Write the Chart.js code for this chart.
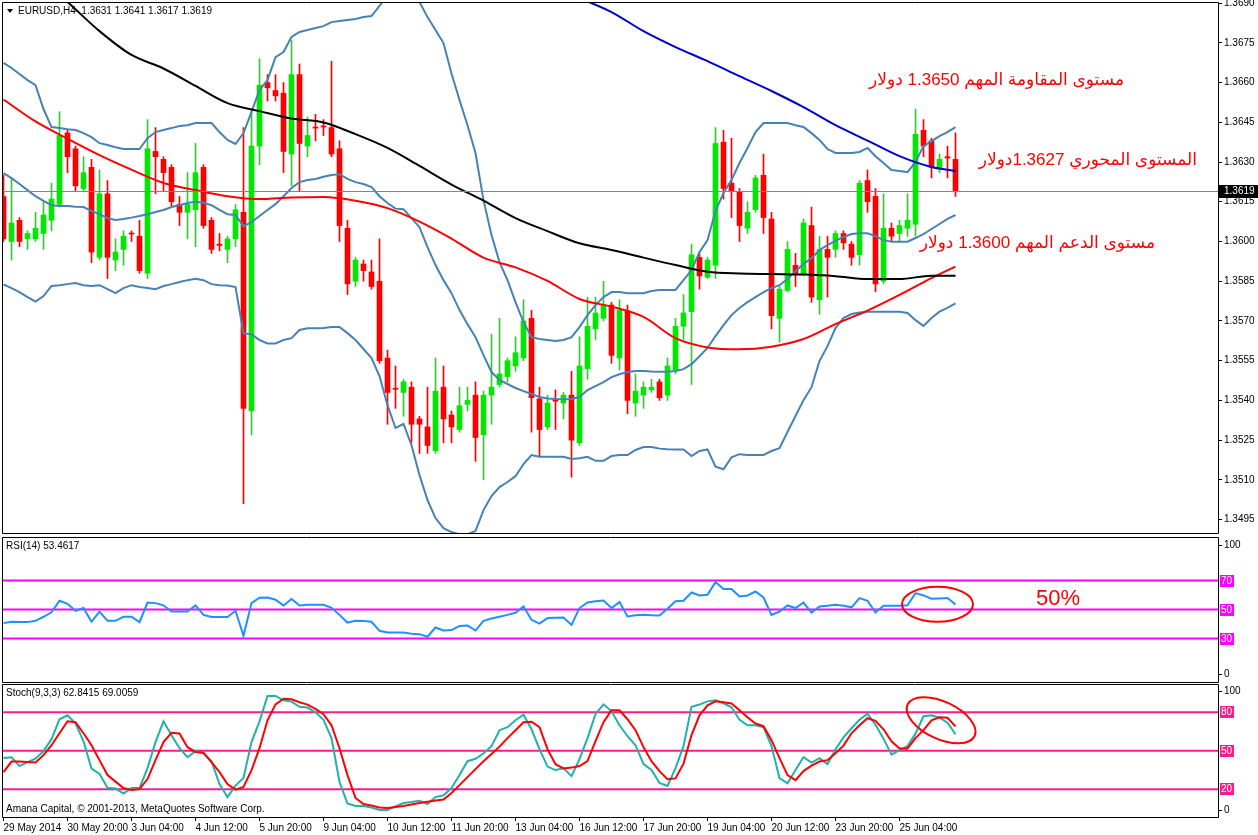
<!DOCTYPE html>
<html><head><meta charset="utf-8">
<script src="https://cdn.jsdelivr.net/npm/chart.js"></script>
<style>
html,body{margin:0;padding:0;background:#fff;}
#wrap{position:relative;width:1258px;height:835px;overflow:hidden;background:#fff;}
canvas{position:absolute;left:0;}
.t{position:absolute;font-family:"Liberation Sans",Arial,sans-serif;font-size:10px;line-height:12px;color:#000;white-space:pre;}
.ar{position:absolute;font-family:"Liberation Sans","DejaVu Sans",sans-serif;font-size:17px;line-height:20px;color:#ff0000;white-space:pre;direction:rtl;}
.tri{position:absolute;left:7px;top:9px;width:0;height:0;border-left:3px solid transparent;border-right:3px solid transparent;border-top:4px solid #000;}
</style></head>
<body><div id="wrap">
<canvas id="main" width="1258" height="535" style="top:0"></canvas>
<canvas id="rsi" width="1258" height="149" style="top:535px"></canvas>
<canvas id="sto" width="1258" height="151" style="top:684px"></canvas>
<div class="tri"></div>
<div class="t" style="left:18px;top:5px">EURUSD,H4  1.3631 1.3641 1.3617 1.3619</div>
<div class="t" style="left:6px;top:540px">RSI(14) 53.4617</div>
<div class="t" style="left:6px;top:687px">Stoch(9,3,3) 62.8415 69.0059</div>
<div class="t" style="left:6px;top:803px">Amana Capital, © 2001-2013, MetaQuotes Software Corp.</div>
<div class="ar" style="right:134px;top:70px">مستوى المقاومة المهم 1.3650 دولار</div>
<div class="ar" style="right:61px;top:150px">المستوى المحوري 1.3627دولار</div>
<div class="ar" style="right:103px;top:233px">مستوى الدعم المهم 1.3600 دولار</div>
<div class="ar" style="left:1036px;top:586px;font-size:22px;line-height:24px;direction:ltr">50%</div>
</div>
<script>
// ---------- data ----------
const open = [1.3617,1.3600,1.3608,1.3601,1.3601,1.3603,1.3608,1.3614,1.3641,1.3635,
1.3620,1.3628,1.3594,1.3618,1.3593,1.3597,1.36032,1.3602,1.3588,1.3634,
1.3631,1.3628,1.3614,1.3611,1.3612,1.3628,1.3608,1.3599,1.3597,1.3601,
1.3611,1.3536,1.3636,1.3660,1.3657,1.3656,1.3633,1.3663,1.3636,1.36432,
1.36436,1.3643,1.3635,1.3605,1.3585,1.35915,1.35885,1.3585,1.3556,1.35446,
1.3543,1.3545,1.3533,1.3530,1.3521,1.3545,1.35345,1.3529,1.35385,1.3542,
1.3527,1.3542,1.3546,1.3549,1.3553,1.3556,1.3571,1.35406,1.3530,1.35403,
1.3539,1.3542,1.3524,1.3552,1.3567,1.3571,1.3576,1.3556,1.35738,1.3539,
1.3542,1.3544,1.3547,1.3542,1.35515,1.3568,1.35735,1.3594,1.35865,1.3591,
1.36375,1.3622,1.36187,1.3605,1.3612,1.3625,1.36085,1.3571,1.35815,1.3591,
1.35877,1.3606,1.3578,1.3597,1.3597,1.3603,1.3599,1.3595,1.3623,1.3617,
1.3585,1.3605,1.3603,1.3605,1.36065,1.3642,1.3638,1.36275,1.3632,1.3631];
const high = [1.3625,1.3624,1.3609,1.3604,1.3611,1.3615,1.3622,1.3649,1.3642,1.3636,
1.3632,1.3631,1.3627,1.3623,1.3601,1.3604,1.3604,1.3608,1.3646,1.3643,
1.3632,1.3629,1.3617,1.3626,1.3637,1.3629,1.3609,1.3603,1.3602,1.3614,
1.3643,1.3649,1.3669,1.3663,1.3663,1.3660,1.3676,1.3667,1.3647,1.3648,
1.3646,1.3668,1.3638,1.3608,1.3594,1.3593,1.3593,1.3601,1.3559,1.3553,
1.3548,1.3547,1.3534,1.3545,1.3556,1.3553,1.3536,1.3545,1.3545,1.3547,
1.35435,1.3565,1.3571,1.3556,1.3564,1.3578,1.3574,1.3545,1.3542,1.3544,
1.3543,1.3551,1.3564,1.3579,1.3579,1.3585,1.3577,1.3578,1.3576,1.3550,
1.3547,1.3548,1.3548,1.3556,1.3571,1.3580,1.3599,1.35955,1.3594,1.3643,
1.3642,1.3639,1.3620,1.3615,1.3625,1.3633,1.3611,1.3583,1.3600,1.35955,
1.36085,1.3613,1.3602,1.3602,1.3604,1.3604,1.3600,1.3623,1.3627,1.3620,
1.3618,1.3607,1.3608,1.3618,1.3650,1.3646,1.3639,1.3633,1.3636,1.3641];
const low = [1.3600,1.3593,1.3598,1.3597,1.3600,1.3597,1.3604,1.3613,1.3626,1.3619,
1.3619,1.3592,1.3593,1.3586,1.3589,1.3591,1.3600,1.3588,1.3586,1.3618,
1.3619,1.3613,1.3606,1.3601,1.3598,1.3605,1.35955,1.35965,1.3592,1.3598,
1.3501,1.3527,1.3629,1.3653,1.3653,1.3626,1.3621,1.3619,1.3632,1.3638,
1.3640,1.3632,1.3600,1.3580,1.3583,1.3585,1.3582,1.3554,1.3531,1.3537,
1.3534,1.3524,1.3520,1.3520,1.3520,1.3524,1.3524,1.3528,1.3536,1.3517,
1.3510,1.3531,1.3545,1.3547,1.3551,1.3555,1.3528,1.3519,1.3529,1.3529,
1.3533,1.3511,1.3523,1.3548,1.3563,1.3570,1.3554,1.35515,1.3535,1.3534,
1.3537,1.3543,1.3540,1.3540,1.3550,1.3563,1.3546,1.3582,1.3586,1.3586,
1.3616,1.3609,1.3600,1.3603,1.3611,1.3603,1.3567,1.3562,1.3581,1.3583,
1.3587,1.3577,1.35725,1.3579,1.3594,1.3597,1.3591,1.3591,1.3611,1.3581,
1.3584,1.3600,1.3600,1.3602,1.3602,1.3632,1.3624,1.3626,1.3624,1.3617];
const close = [1.3601,1.3607,1.3600,1.3603,1.3605,1.3610,1.3616,1.3640,1.3632,1.3621,
1.3626,1.3596,1.3618,1.3594,1.3596,1.3602,1.36028,1.3589,1.3635,1.3632,
1.3626,1.3615,1.3611,1.3614,1.3626,1.3606,1.3597,1.35985,1.3601,1.3612,
1.3537,1.3636,1.3659,1.3658,1.3655,1.3634,1.3663,1.3637,1.3640,1.36428,
1.36432,1.3633,1.3606,1.3584,1.3593,1.3589,1.3583,1.3555,1.3543,1.35442,
1.3547,1.3531,1.3531,1.3523,1.35435,1.3533,1.3530,1.3538,1.3540,1.3526,
1.3542,1.3545,1.3550,1.3555,1.3558,1.3570,1.3541,1.3529,1.3539,1.35397,
1.3542,1.3525,1.3553,1.3568,1.3573,1.3576,1.3557,1.3574,1.3540,1.35435,
1.3545,1.3545,1.3541,1.3553,1.3568,1.3573,1.3595,1.3587,1.3593,1.3637,
1.3620,1.3619,1.3606,1.3611,1.3624,1.3609,1.3572,1.3582,1.3597,1.3588,
1.3607,1.3579,1.3597,1.3594,1.3603,1.35995,1.3594,1.3622,1.3615,1.3584,
1.3605,1.3602,1.3606,1.3608,1.36405,1.3636,1.3628,1.3631,1.36315,1.3619];

const bbUpper = [1.36674,1.36655,1.36632,1.36609,1.36590,1.36500,1.36432,1.36428,1.36424,1.36421,
1.36409,1.36394,1.36371,1.36364,1.36356,1.36349,1.36349,1.36349,1.36390,1.36413,
1.36421,1.36428,1.36436,1.36439,1.36447,1.36447,1.36447,1.36413,1.36383,1.36368,
1.36409,1.36489,1.36572,1.36609,1.36696,1.36715,1.36772,1.36791,1.36798,1.36806,
1.36813,1.36828,1.36832,1.36836,1.36840,1.36847,1.36851,1.36889,1.36930,1.36957,
1.36964,1.36957,1.36904,1.36847,1.36798,1.36749,1.36634,1.36534,1.36439,1.36334,
1.36156,1.36024,1.35922,1.35854,1.35771,1.35696,1.35639,1.35632,1.35628,1.35624,
1.35628,1.35639,1.35677,1.35722,1.35760,1.35790,1.35809,1.35809,1.35805,1.35805,
1.35805,1.35813,1.35817,1.35817,1.35817,1.35854,1.35892,1.35960,1.36005,1.36115,
1.36183,1.36232,1.36296,1.36353,1.36413,1.36447,1.36447,1.36447,1.36447,1.36439,
1.36432,1.36409,1.36383,1.36349,1.36334,1.36334,1.36334,1.36338,1.36353,1.36322,
1.36296,1.36270,1.36266,1.36262,1.36300,1.36360,1.36379,1.36398,1.36413,1.36432];
const bbMiddle = [1.36258,1.36239,1.36217,1.36194,1.36171,1.36153,1.36137,1.36134,1.36134,1.36131,
1.36130,1.36115,1.36103,1.36088,1.36081,1.36085,1.36090,1.36096,1.36103,1.36111,
1.36119,1.36130,1.36137,1.36145,1.36150,1.36146,1.36137,1.36119,1.36103,1.36100,
1.36058,1.36073,1.36096,1.36119,1.36141,1.36171,1.36202,1.36224,1.36232,1.36236,
1.36244,1.36251,1.36254,1.36236,1.36224,1.36217,1.36205,1.36171,1.36145,1.36124,
1.36122,1.36088,1.36054,1.35979,1.35911,1.35854,1.35805,1.35741,1.35688,1.35639,
1.35571,1.35507,1.35477,1.35462,1.35447,1.35435,1.35424,1.35413,1.35407,1.35405,
1.35404,1.35405,1.35413,1.35439,1.35454,1.35469,1.35488,1.35499,1.35507,1.35511,
1.35511,1.35509,1.35508,1.35508,1.35511,1.35518,1.35537,1.35567,1.35598,1.35643,
1.35684,1.35722,1.35749,1.35771,1.35790,1.35809,1.35824,1.35835,1.35858,1.35888,
1.35915,1.35937,1.35968,1.35986,1.36002,1.36017,1.36028,1.36031,1.36031,1.36020,
1.36005,1.35999,1.35999,1.35999,1.36013,1.36028,1.36047,1.36066,1.36085,1.36100];
const bbLower = [1.35838,1.35824,1.35809,1.35790,1.35773,1.35794,1.35832,1.35835,1.35839,1.35843,
1.35835,1.35832,1.35835,1.35820,1.35805,1.35824,1.35835,1.35828,1.35824,1.35820,
1.35832,1.35839,1.35847,1.35854,1.35859,1.35854,1.35839,1.35835,1.35834,1.35828,
1.35653,1.35650,1.35628,1.35615,1.35615,1.35628,1.35635,1.35666,1.35672,1.35672,
1.35673,1.35677,1.35677,1.35654,1.35628,1.35594,1.35560,1.35492,1.35382,1.35296,
1.35311,1.35231,1.35118,1.35024,1.34956,1.34918,1.34903,1.34895,1.34895,1.34907,
1.34986,1.35039,1.35073,1.35092,1.35114,1.35160,1.35194,1.35187,1.35187,1.35187,
1.35187,1.35179,1.35182,1.35187,1.35172,1.35172,1.35190,1.35194,1.35194,1.35213,
1.35224,1.35224,1.35218,1.35216,1.35215,1.35215,1.35190,1.35209,1.35215,1.35150,
1.35140,1.35185,1.35197,1.35194,1.35194,1.35194,1.35209,1.35220,1.35281,1.35341,
1.35401,1.35450,1.35549,1.35605,1.35673,1.35711,1.35726,1.35732,1.35735,1.35735,
1.35735,1.35735,1.35735,1.35730,1.35703,1.35681,1.35711,1.35735,1.35749,1.35766];

const maIdx = [0,4,8,12,16,20,24,28,32,36,40,44,48,52,56,60,64,68,72,76,80,84,88,92,96,100,104,108,112,116,119];
const maRed = [1.36536,1.36453,1.36388,1.36326,1.36271,1.36221,1.36194,1.36171,1.36160,1.36166,1.36168,1.36154,1.36126,1.36075,1.36011,1.35939,1.35902,1.35851,1.35783,1.35754,1.35715,1.35635,1.35600,1.35593,1.35603,1.35632,1.35688,1.35739,1.35798,1.35862,1.35905];
const maBlack = [1.37138,1.37006,1.36904,1.36794,1.36704,1.36653,1.36587,1.36522,1.36492,1.36464,1.36449,1.36405,1.36353,1.36285,1.36215,1.36154,1.36088,1.36039,1.35993,1.35968,1.35939,1.35911,1.35886,1.35879,1.35877,1.35875,1.35869,1.35858,1.35858,1.35871,1.35871];
const blueIdx = [72,76,80,84,88,92,96,100,104,108,112,116,119];
const maBlue = [1.36919,1.36866,1.36794,1.36734,1.36681,1.36624,1.36568,1.36507,1.36439,1.36381,1.36322,1.36281,1.36266];

const rsi = [40.6,41.5,41.3,41.3,42.2,45.0,48.1,56.0,53.9,49.1,
51.0,41.5,48.6,42.2,42.2,45.0,45.0,41.3,54.8,54.4,
52.9,48.6,48.6,48.6,52.8,46.3,44.8,44.8,44.8,49.1,
31.9,54.4,58.1,58.3,56.7,52.8,57.2,52.8,53.2,53.2,
53.2,51.2,46.3,41.0,42.2,42.0,41.5,35.3,34.1,34.1,
34.1,33.2,33.0,31.2,37.6,35.5,35.8,38.6,39.0,35.5,
42.2,43.8,45.0,46.3,47.7,52.1,42.9,40.3,44.1,44.3,
44.5,39.4,51.0,54.8,55.7,56.2,51.0,55.1,45.2,46.0,
46.3,46.0,45.9,50.5,55.7,56.0,61.7,59.7,60.1,68.9,
64.1,64.1,59.0,59.7,62.4,58.3,46.3,48.6,52.8,51.0,
54.8,47.9,52.1,52.6,53.2,52.6,51.5,57.9,56.0,47.9,
52.6,52.6,52.6,52.9,61.3,59.7,57.4,57.6,57.9,53.46];
const rsiLevels = [70,50,30];

const stochK = [44.3,45.0,38.1,41.2,43.9,49.7,59.0,74.5,77.6,71.4,
57.4,36.1,31.9,21.2,20.6,16.7,21.0,21.0,36.5,56.7,
72.9,62.1,52.0,45.0,49.7,48.1,41.9,24.1,14.0,22.9,
28.8,56.7,72.9,92.6,92.6,89.2,88.2,84.2,83.6,79.9,
74.1,59.8,25.7,9.0,7.1,7.1,5.9,4.0,4.0,6.7,
9.4,10.2,11.2,8.6,14.0,15.4,21.0,31.1,41.9,43.8,
48.1,53.6,66.0,68.3,73.7,78.0,66.7,51.2,37.7,35.0,
36.3,30.3,43.5,59.8,78.4,86.1,80.7,69.8,61.3,54.3,
39.6,35.0,24.9,22.6,36.5,53.6,84.2,85.9,88.4,89.2,
86.9,83.8,74.1,69.8,69.8,68.3,53.6,28.8,24.7,35.0,
45.0,40.8,44.3,39.6,51.2,60.5,67.5,74.1,78.8,70.2,
59.4,47.0,50.5,53.6,63.3,76.8,77.6,75.7,71.8,62.84];
const stochD = [33.4,41.6,41.7,41.2,40.8,46.6,54.3,63.6,72.9,72.2,
63.6,54.3,42.7,31.1,26.0,21.0,19.5,20.2,28.0,42.7,
56.7,63.9,63.4,52.8,49.1,48.4,41.2,33.4,24.1,19.8,
21.8,35.0,52.0,73.7,86.1,90.4,90.0,87.7,85.9,82.6,
78.4,69.8,52.0,31.1,13.3,8.6,7.4,5.9,5.5,6.3,
7.1,8.2,9.4,10.3,11.3,12.1,17.1,23.3,29.5,35.7,
41.9,47.4,53.2,59.8,66.0,72.2,72.6,68.3,51.2,39.6,
36.3,36.9,38.1,41.9,57.4,72.2,81.5,81.5,74.5,66.0,
52.8,41.9,34.2,27.8,28.5,40.0,62.1,77.6,85.3,88.4,
87.7,86.7,81.5,76.0,71.2,69.1,58.2,44.3,31.1,27.2,
34.2,38.4,41.6,42.7,48.1,54.0,63.6,69.8,75.3,73.3,
66.7,57.4,51.8,51.8,59.8,66.0,73.7,76.0,75.7,69.0];
const stochLevels = [80,50,20];

const priceTicks = [1.3690,1.3675,1.3660,1.3645,1.3630,1.3615,1.3600,1.3585,1.3570,1.3555,1.3540,1.3525,1.3510,1.3495];
const dateTickIdx = [0,8,16,24,32,40,48,56,64,72,80,88,96,104,112];
const dateLabels = ['29 May 2014','30 May 20:00','3 Jun 04:00','4 Jun 12:00','5 Jun 20:00','9 Jun 04:00','10 Jun 12:00','11 Jun 20:00','13 Jun 04:00','16 Jun 12:00','17 Jun 20:00','19 Jun 04:00','20 Jun 12:00','23 Jun 20:00','25 Jun 04:00'];

// ---------- helpers ----------
const FONT = '"Liberation Sans", Arial, sans-serif';
const X_MIN = -0.1875, X_MAX = 151.8125;
const idx = open.map((_, i) => i);
const full = arr => arr.map((v, i) => ({x: i, y: v}));
const sparse = (ix, arr) => ix.map((x, k) => ({x: x, y: arr[k]}));
const hline = v => [{x: X_MIN, y: v}, {x: X_MAX, y: v}];
const isBull = i => close[i] >= open[i];
const BODY_G = '#00e800', WICK_G = '#34c834', RED = '#ff0000';

const lineDs = (data, color, order, extra) => Object.assign({
  type: 'line', data, borderColor: color, borderWidth: 2, pointRadius: 0,
  fill: false, tension: 0, order
}, extra || {});

const framePlugin = {
  id: 'frame',
  afterDraw(chart) {
    const {ctx, chartArea: a} = chart;
    ctx.save();
    ctx.strokeStyle = '#000'; ctx.lineWidth = 1;
    ctx.beginPath();
    ctx.moveTo(a.left + 0.5, a.top + 0.5);
    ctx.lineTo(a.right + 0.5, a.top + 0.5);
    ctx.lineTo(a.right + 0.5, a.bottom + 0.5);
    ctx.lineTo(a.left + 0.5, a.bottom + 0.5);
    ctx.closePath();
    ctx.stroke();
    ctx.restore();
  }
};

const priceTagPlugin = {
  id: 'priceTag',
  afterDatasetsDraw(chart) {
    const {ctx, chartArea: a, scales: {y}} = chart;
    const last = close[close.length - 1];
    const py = Math.round(y.getPixelForValue(last));
    ctx.save();
    ctx.strokeStyle = '#778899'; ctx.lineWidth = 1;
    ctx.beginPath(); ctx.moveTo(a.left, py + 0.5); ctx.lineTo(a.right, py + 0.5); ctx.stroke();
    ctx.restore();
  },
  afterDraw(chart) {
    const {ctx, chartArea: a, scales: {y}} = chart;
    const last = close[close.length - 1];
    const py = Math.round(y.getPixelForValue(last));
    ctx.save();
    ctx.fillStyle = '#000';
    ctx.fillRect(a.right + 1, py - 6, 40, 13);
    ctx.fillStyle = '#fff';
    ctx.font = '10px ' + FONT;
    ctx.textBaseline = 'middle'; ctx.textAlign = 'left';
    ctx.fillText(last.toFixed(4), a.right + 6, py + 0.5);
    ctx.restore();
  }
};

const indAxisPlugin = {
  id: 'indAxis',
  afterDraw(chart, args, o) {
    const {ctx, chartArea: a, scales: {x, y}} = chart;
    ctx.save();
    ctx.font = '10px ' + FONT;
    ctx.textBaseline = 'middle'; ctx.textAlign = 'left';
    ctx.strokeStyle = '#000'; ctx.fillStyle = '#000'; ctx.lineWidth = 1;
    [[o.maxLabel, a.top + o.inset], [o.minLabel, a.bottom - o.inset]].forEach(([t, py]) => {
      py = Math.round(py);
      ctx.beginPath(); ctx.moveTo(a.right, py + 0.5); ctx.lineTo(a.right + 4, py + 0.5); ctx.stroke();
      ctx.fillStyle = '#000';
      ctx.fillText(t, a.right + 6, py);
    });
    o.levels.forEach(lv => {
      const py = Math.round(y.getPixelForValue(lv));
      ctx.fillStyle = o.levelColor;
      ctx.fillRect(a.right + 2, py - 6, 14, 12);
      ctx.fillStyle = '#fff';
      ctx.fillText(String(lv), a.right + 3, py);
    });
    // hand-drawn red ellipse annotation
    const e = o.ellipse;
    ctx.strokeStyle = '#ff0000'; ctx.lineWidth = 2;
    ctx.beginPath();
    ctx.ellipse(x.getPixelForValue(e.cx), y.getPixelForValue(e.cy), e.rx, e.ry, e.rot, 0, Math.PI * 2);
    ctx.stroke();
    ctx.restore();
  }
};

Chart.defaults.font.family = FONT;

const baseOpts = (padding) => ({
  responsive: false, animation: false, events: [], devicePixelRatio: 1,
  layout: {padding},
});

const hiddenX = {type: 'linear', min: X_MIN, max: X_MAX, offset: false, display: false, bounds: 'data'};

// ---------- main price chart ----------
new Chart(document.getElementById('main'), {
  type: 'bar',
  data: {datasets: [
    lineDs(sparse(blueIdx, maBlue), '#0000cd', 1, {cubicInterpolationMode: 'monotone'}),
    lineDs(sparse(maIdx, maBlack), '#000000', 2, {cubicInterpolationMode: 'monotone'}),
    lineDs(sparse(maIdx, maRed), '#ff0000', 3, {cubicInterpolationMode: 'monotone'}),
    lineDs(full(bbUpper), '#4682b4', 4),
    lineDs(full(bbMiddle), '#4682b4', 4),
    lineDs(full(bbLower), '#4682b4', 4),
    {type: 'bar', data: idx.map(i => ({x: i, y: [low[i], high[i]]})),
     backgroundColor: c => isBull(c.dataIndex) ? WICK_G : RED,
     barThickness: 1, grouped: false, borderWidth: 0, order: 10},
    {type: 'bar', data: idx.map(i => ({x: i, y: [open[i], close[i]]})),
     backgroundColor: c => isBull(c.dataIndex) ? BODY_G : RED,
     barThickness: 5, grouped: false, borderWidth: 0, minBarLength: 1, order: 9}
  ]},
  options: Object.assign(baseOpts({left: 2, right: 0, top: 2, bottom: 2}), {
    plugins: {legend: {display: false}, tooltip: {enabled: false}},
    scales: {
      x: hiddenX,
      y: {type: 'linear', position: 'right', min: 1.348995, max: 1.36904, bounds: 'data',
        afterBuildTicks: s => { s.ticks = priceTicks.map(v => ({value: v})); },
        afterFit: s => { s.width = 40; s.paddingTop = 0; s.paddingBottom = 0; },
        ticks: {callback: v => Number(v).toFixed(4), font: {size: 10, family: FONT}, color: '#000', padding: 2, autoSkip: false},
        grid: {display: true, drawOnChartArea: false, drawTicks: true, tickLength: 4, color: '#000'},
        border: {display: false}}
    }
  }),
  plugins: [framePlugin, priceTagPlugin]
});

// ---------- RSI ----------
new Chart(document.getElementById('rsi'), {
  type: 'line',
  data: {datasets: [
    ...rsiLevels.map(v => lineDs(hline(v), '#ff00ff', 5)),
    lineDs(full(rsi), '#1e90ff', 1)
  ]},
  options: Object.assign(baseOpts({left: 2, right: 0, top: 2, bottom: 2}), {
    plugins: {legend: {display: false}, tooltip: {enabled: false},
      indAxis: {maxLabel: '100', minLabel: '0', inset: 8, levels: rsiLevels, levelColor: '#ff00ff',
        ellipse: {cx: 116.75, cy: 53.6, rx: 35.5, ry: 17.5, rot: 0}}},
    scales: {
      x: hiddenX,
      y: {type: 'linear', position: 'right', min: 0, max: 100, bounds: 'data',
        afterFit: s => { s.width = 40; s.paddingTop = 0; s.paddingBottom = 0; },
        ticks: {display: false}, grid: {display: false}, border: {display: false}}
    }
  }),
  plugins: [framePlugin, indAxisPlugin]
});

// ---------- Stochastic ----------
new Chart(document.getElementById('sto'), {
  type: 'line',
  data: {datasets: [
    ...stochLevels.map(v => lineDs(hline(v), '#ff1a8c', 5)),
    lineDs(full(stochK), '#20b2aa', 2),
    lineDs(full(stochD), '#ff0000', 1)
  ]},
  options: Object.assign(baseOpts({left: 2, right: 0, top: 0, bottom: 0}), {
    plugins: {legend: {display: false}, tooltip: {enabled: false},
      indAxis: {maxLabel: '100', minLabel: '0', inset: 7, levels: stochLevels, levelColor: '#ff1a8c',
        ellipse: {cx: 117.2, cy: 73.7, rx: 37, ry: 18.6, rot: 0.44}}},
    scales: {
      x: {type: 'linear', min: X_MIN, max: X_MAX, offset: false, position: 'bottom', bounds: 'data',
        afterBuildTicks: s => { s.ticks = dateTickIdx.map(v => ({value: v})); },
        afterFit: s => { s.height = 18; s.paddingLeft = 0; s.paddingRight = 0; },
        ticks: {callback: (v, i) => dateLabels[i], align: 'start', maxRotation: 0, minRotation: 0,
          autoSkip: false, font: {size: 10, family: FONT}, color: '#000', padding: 1},
        grid: {display: true, drawOnChartArea: false, drawTicks: true, tickLength: 4, color: '#000'},
        border: {display: false}},
      y: {type: 'linear', position: 'right', min: -1.5, max: 101.9, bounds: 'data',
        afterFit: s => { s.width = 40; s.paddingTop = 0; s.paddingBottom = 0; },
        ticks: {display: false}, grid: {display: false}, border: {display: false}}
    }
  }),
  plugins: [framePlugin, indAxisPlugin]
});
</script>
</body></html>
